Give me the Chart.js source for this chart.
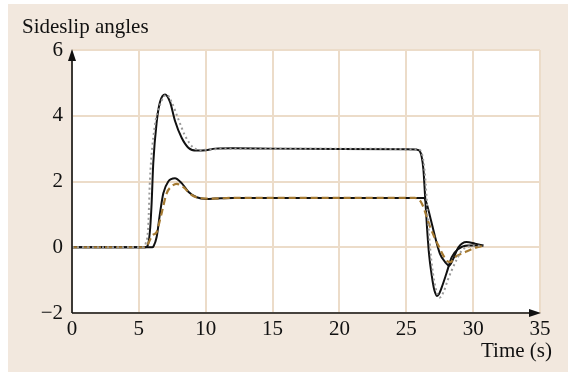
<!DOCTYPE html>
<html>
<head>
<meta charset="utf-8">
<script src="https://cdn.jsdelivr.net/npm/chart.js@4/dist/chart.umd.min.js"></script>
<style>
html,body{margin:0;padding:0;background:#fff;}
#wrap{position:relative;width:568px;height:372px;}
</style>
</head>
<body>
<div id="wrap"><canvas id="c" width="568" height="372"></canvas></div>
<script>
// ---- data ----
const xTicks = [0, 5, 10, 15, 20, 25, 30, 35];
const yTicks = [-2, 0, 2, 4, 6];
const yLabel = "Sideslip angles";
const xLabel = "Time (s)";

const bigSolidT = [0, 5.5, 5.7, 5.85, 5.95, 6.08, 6.33, 6.58, 6.96, 7.33, 7.7, 8.2, 8.7, 9.32, 10.0, 10.7, 12, 15, 20, 25, 25.78, 26.0, 26.15, 26.28, 26.4, 26.55, 26.7, 26.9, 27.05, 27.15, 27.3, 27.45, 27.65, 28.0, 28.4, 28.9, 29.6, 30.77];
const bigSolidV = [0, 0, 0.1, 0.6, 1.3, 2.57, 3.8, 4.42, 4.65, 4.42, 3.85, 3.33, 3.03, 2.94, 2.95, 3.0, 3.01, 3.0, 2.99, 2.98, 2.97, 2.93, 2.75, 2.37, 1.6, 0.6, -0.2, -0.85, -1.22, -1.37, -1.48, -1.42, -1.22, -0.8, -0.3, -0.05, 0.05, 0.05];

const bigRefT = [0, 5.3, 5.5, 5.7, 5.83, 6.16, 6.6, 7.08, 7.45, 7.95, 8.45, 9.07, 9.7, 10.5, 12, 20, 25.9, 26.2, 26.4, 26.6, 26.8, 27.0, 27.2, 27.5, 27.8, 28.1, 28.4, 28.8, 29.15, 29.5, 30, 30.8];
const bigRefV = [0, 0, 0.1, 0.62, 2.06, 3.6, 4.35, 4.64, 4.42, 3.9, 3.4, 3.03, 2.96, 2.98, 3.0, 3.0, 2.97, 2.8, 2.2, 1.0, -0.1, -0.8, -1.25, -1.53, -1.35, -1.0, -0.7, -0.35, -0.1, 0, 0.04, 0.05];

const smallSolidT = [0, 6.0, 6.1, 6.33, 6.58, 6.83, 7.2, 7.7, 8.2, 8.7, 9.32, 10.07, 10.7, 12, 20, 26.3, 26.45, 26.78, 27.15, 27.52, 27.9, 28.22, 28.5, 28.9, 29.5, 30.14, 30.77];
const smallSolidV = [0, 0, 0.03, 0.31, 1.03, 1.64, 2.0, 2.1, 1.95, 1.69, 1.52, 1.47, 1.48, 1.5, 1.5, 1.5, 1.42, 0.93, 0.32, -0.2, -0.45, -0.56, -0.36, 0, 0.16, 0.11, 0.05];

const smallRefT = [0, 5.5, 5.8, 6.0, 6.33, 6.5, 6.7, 7.08, 7.45, 7.83, 8.33, 8.95, 9.7, 10.5, 12, 20, 25.65, 26.15, 26.78, 27.4, 28.03, 28.3, 28.65, 29.4, 30.14, 30.77];
const smallRefV = [0, 0, 0.2, 0.36, 0.46, 0.7, 1.03, 1.64, 1.85, 1.93, 1.83, 1.59, 1.49, 1.48, 1.5, 1.5, 1.5, 1.34, 0.62, 0.05, -0.41, -0.45, -0.3, -0.15, -0.02, 0.05];

function pts(t, v){ return t.map((x, i) => ({x: x, y: v[i]})); }

const FONT = "'Liberation Serif', 'Times New Roman', serif";
const GRID = '#ecdcc9';
const BG = '#f2e8de';

const decor = {
  id: 'decor',
  beforeDraw(chart){
    const ctx = chart.ctx, a = chart.chartArea;
    ctx.save();
    ctx.fillStyle = BG;
    ctx.fillRect(8, 4, chart.width - 8, chart.height - 4);
    ctx.fillStyle = '#ffffff';
    ctx.fillRect(a.left, a.top, a.right - a.left, a.bottom - a.top);
    ctx.restore();
  },
  afterDraw(chart){
    const ctx = chart.ctx, a = chart.chartArea;
    ctx.save();
    ctx.strokeStyle = '#111';
    ctx.fillStyle = '#111';
    ctx.lineWidth = 1.6;
    ctx.beginPath();
    ctx.moveTo(a.left, a.bottom);
    ctx.lineTo(a.left, a.top + 8);
    ctx.moveTo(a.left, a.bottom);
    ctx.lineTo(a.right - 8, a.bottom);
    ctx.stroke();
    // arrowheads
    ctx.beginPath();
    ctx.moveTo(a.left, a.top - 1);
    ctx.lineTo(a.left - 4, a.top + 11);
    ctx.lineTo(a.left + 4, a.top + 11);
    ctx.closePath();
    ctx.fill();
    ctx.beginPath();
    ctx.moveTo(a.right + 1, a.bottom);
    ctx.lineTo(a.right - 11, a.bottom - 4);
    ctx.lineTo(a.right - 11, a.bottom + 4);
    ctx.closePath();
    ctx.fill();
    // labels
    ctx.font = '21px ' + FONT;
    ctx.textBaseline = 'alphabetic';
    ctx.textAlign = 'left';
    ctx.fillText(yLabel, 22, 33);
    ctx.textAlign = 'right';
    ctx.fillText(xLabel, 552, 357);
    ctx.restore();
  }
};

new Chart(document.getElementById('c'), {
  type: 'line',
  data: {
    datasets: [
      { label: 'ref large', data: pts(bigRefT, bigRefV), borderColor: '#9a9a9a', borderWidth: 2, borderDash: [2, 3], pointRadius: 0, cubicInterpolationMode: 'monotone', fill: false },
      { label: 'ref small', data: pts(smallRefT, smallRefV), borderColor: '#a57a32', borderWidth: 2.2, borderDash: [7, 4], pointRadius: 0, cubicInterpolationMode: 'monotone', fill: false },
      { label: 'large', data: pts(bigSolidT, bigSolidV), borderColor: '#111', borderWidth: 2, pointRadius: 0, cubicInterpolationMode: 'monotone', fill: false },
      { label: 'small', data: pts(smallSolidT, smallSolidV), borderColor: '#111', borderWidth: 2, pointRadius: 0, cubicInterpolationMode: 'monotone', fill: false }
    ]
  },
  options: {
    responsive: false,
    animation: false,
    devicePixelRatio: 1,
    layout: { padding: { left: 0, top: 50, right: 28, bottom: 0 } },
    plugins: { legend: { display: false }, tooltip: { enabled: false }, title: { display: false } },
    scales: {
      x: {
        type: 'linear', min: 0, max: 35,
        afterBuildTicks(s){ s.ticks = xTicks.map(v => ({value: v})); },
        afterFit(s){ s.height = 59; },
        grid: { color: GRID, lineWidth: 2, drawTicks: false },
        border: { display: false },
        ticks: { color: '#111', font: { family: FONT, size: 21 }, padding: 4, maxRotation: 0, autoSkip: false }
      },
      y: {
        type: 'linear', min: -2, max: 6,
        afterBuildTicks(s){ s.ticks = yTicks.map(v => ({value: v})); },
        afterFit(s){ s.width = 72; },
        grid: { color: GRID, lineWidth: 2, drawTicks: false },
        border: { display: false },
        ticks: { color: '#111', font: { family: FONT, size: 21 }, padding: 9, autoSkip: false,
          callback: v => (v < 0 ? '\u2212' + Math.abs(v) : String(v)) }
      }
    }
  },
  plugins: [decor]
});
</script>
</body>
</html>
